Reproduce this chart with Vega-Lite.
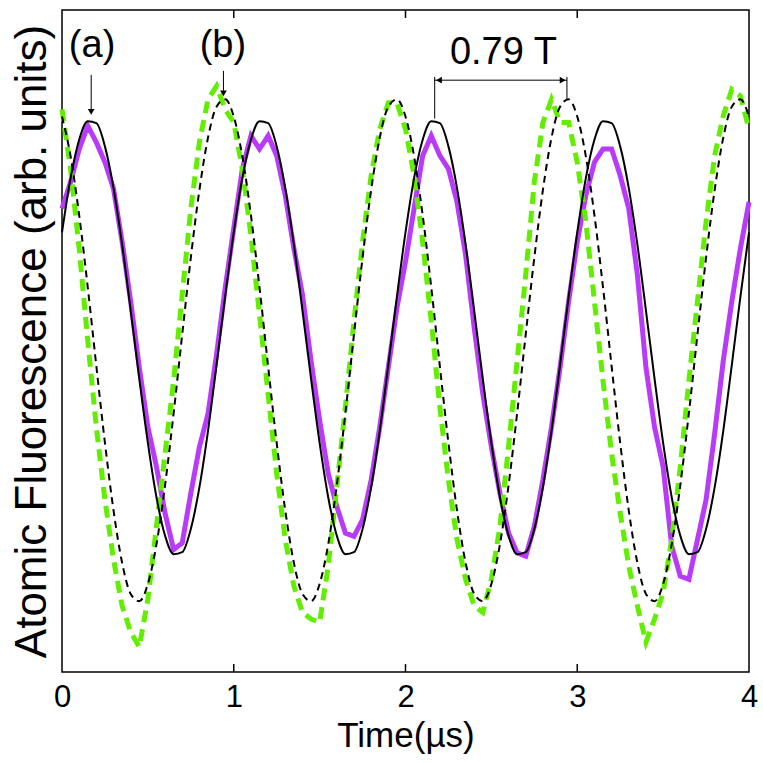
{
  "$schema": "https://vega.github.io/schema/vega-lite/v6.json",
  "width": 687,
  "height": 662,
  "autosize": {"type": "none"},
  "padding": {"left": 62, "top": 10, "right": 14, "bottom": 91},
  "background": "white",
  "config": {
    "view": {"stroke": "black", "strokeWidth": 1.5},
    "font": "Liberation Sans"
  },
  "datasets": {
    "series": [
      {"t": 0.00, "a": 0.700, "fa": 0.664, "b": 0.850, "fb": 0.839},
      {"t": 0.05, "a": 0.740, "fa": 0.746, "b": 0.760, "fb": 0.779},
      {"t": 0.10, "a": 0.790, "fa": 0.804, "b": 0.640, "fb": 0.690},
      {"t": 0.15, "a": 0.825, "fa": 0.832, "b": 0.500, "fb": 0.581},
      {"t": 0.20, "a": 0.800, "fa": 0.829, "b": 0.370, "fb": 0.462},
      {"t": 0.25, "a": 0.770, "fa": 0.794, "b": 0.260, "fb": 0.346},
      {"t": 0.30, "a": 0.730, "fa": 0.731, "b": 0.170, "fb": 0.244},
      {"t": 0.35, "a": 0.650, "fa": 0.646, "b": 0.100, "fb": 0.165},
      {"t": 0.40, "a": 0.560, "fa": 0.546, "b": 0.060, "fb": 0.118},
      {"t": 0.45, "a": 0.460, "fa": 0.443, "b": 0.038, "fb": 0.107},
      {"t": 0.50, "a": 0.370, "fa": 0.346, "b": 0.110, "fb": 0.133},
      {"t": 0.55, "a": 0.310, "fa": 0.264, "b": 0.220, "fb": 0.193},
      {"t": 0.60, "a": 0.240, "fa": 0.206, "b": 0.330, "fb": 0.282},
      {"t": 0.65, "a": 0.185, "fa": 0.178, "b": 0.440, "fb": 0.391},
      {"t": 0.70, "a": 0.195, "fa": 0.181, "b": 0.570, "fb": 0.510},
      {"t": 0.75, "a": 0.270, "fa": 0.216, "b": 0.700, "fb": 0.626},
      {"t": 0.80, "a": 0.340, "fa": 0.279, "b": 0.800, "fb": 0.728},
      {"t": 0.85, "a": 0.390, "fa": 0.364, "b": 0.865, "fb": 0.807},
      {"t": 0.90, "a": 0.480, "fa": 0.464, "b": 0.885, "fb": 0.854},
      {"t": 0.95, "a": 0.580, "fa": 0.567, "b": 0.850, "fb": 0.865},
      {"t": 1.00, "a": 0.670, "fa": 0.664, "b": 0.830, "fb": 0.839},
      {"t": 1.05, "a": 0.760, "fa": 0.746, "b": 0.760, "fb": 0.779},
      {"t": 1.10, "a": 0.810, "fa": 0.804, "b": 0.660, "fb": 0.690},
      {"t": 1.15, "a": 0.790, "fa": 0.832, "b": 0.540, "fb": 0.581},
      {"t": 1.20, "a": 0.810, "fa": 0.829, "b": 0.420, "fb": 0.462},
      {"t": 1.25, "a": 0.780, "fa": 0.794, "b": 0.300, "fb": 0.346},
      {"t": 1.30, "a": 0.720, "fa": 0.731, "b": 0.200, "fb": 0.244},
      {"t": 1.35, "a": 0.640, "fa": 0.646, "b": 0.130, "fb": 0.165},
      {"t": 1.40, "a": 0.570, "fa": 0.546, "b": 0.090, "fb": 0.118},
      {"t": 1.45, "a": 0.470, "fa": 0.443, "b": 0.080, "fb": 0.107},
      {"t": 1.50, "a": 0.380, "fa": 0.346, "b": 0.075, "fb": 0.133},
      {"t": 1.55, "a": 0.300, "fa": 0.264, "b": 0.160, "fb": 0.193},
      {"t": 1.60, "a": 0.250, "fa": 0.206, "b": 0.280, "fb": 0.282},
      {"t": 1.65, "a": 0.210, "fa": 0.178, "b": 0.400, "fb": 0.391},
      {"t": 1.70, "a": 0.205, "fa": 0.181, "b": 0.530, "fb": 0.510},
      {"t": 1.75, "a": 0.230, "fa": 0.216, "b": 0.650, "fb": 0.626},
      {"t": 1.80, "a": 0.290, "fa": 0.279, "b": 0.750, "fb": 0.728},
      {"t": 1.85, "a": 0.370, "fa": 0.364, "b": 0.820, "fb": 0.807},
      {"t": 1.90, "a": 0.460, "fa": 0.464, "b": 0.860, "fb": 0.854},
      {"t": 1.95, "a": 0.550, "fa": 0.567, "b": 0.860, "fb": 0.865},
      {"t": 2.00, "a": 0.620, "fa": 0.664, "b": 0.820, "fb": 0.839},
      {"t": 2.05, "a": 0.700, "fa": 0.746, "b": 0.750, "fb": 0.779},
      {"t": 2.10, "a": 0.780, "fa": 0.804, "b": 0.650, "fb": 0.690},
      {"t": 2.15, "a": 0.810, "fa": 0.832, "b": 0.530, "fb": 0.581},
      {"t": 2.20, "a": 0.780, "fa": 0.829, "b": 0.400, "fb": 0.462},
      {"t": 2.25, "a": 0.760, "fa": 0.794, "b": 0.290, "fb": 0.346},
      {"t": 2.30, "a": 0.710, "fa": 0.731, "b": 0.200, "fb": 0.244},
      {"t": 2.35, "a": 0.630, "fa": 0.646, "b": 0.140, "fb": 0.165},
      {"t": 2.40, "a": 0.520, "fa": 0.546, "b": 0.100, "fb": 0.118},
      {"t": 2.45, "a": 0.420, "fa": 0.443, "b": 0.090, "fb": 0.107},
      {"t": 2.50, "a": 0.340, "fa": 0.346, "b": 0.140, "fb": 0.133},
      {"t": 2.55, "a": 0.270, "fa": 0.264, "b": 0.220, "fb": 0.193},
      {"t": 2.60, "a": 0.210, "fa": 0.206, "b": 0.340, "fb": 0.282},
      {"t": 2.65, "a": 0.180, "fa": 0.178, "b": 0.470, "fb": 0.391},
      {"t": 2.70, "a": 0.175, "fa": 0.181, "b": 0.600, "fb": 0.510},
      {"t": 2.75, "a": 0.220, "fa": 0.216, "b": 0.740, "fb": 0.626},
      {"t": 2.80, "a": 0.290, "fa": 0.279, "b": 0.830, "fb": 0.728},
      {"t": 2.85, "a": 0.370, "fa": 0.364, "b": 0.865, "fb": 0.807},
      {"t": 2.90, "a": 0.460, "fa": 0.464, "b": 0.830, "fb": 0.854},
      {"t": 2.95, "a": 0.560, "fa": 0.567, "b": 0.830, "fb": 0.865},
      {"t": 3.00, "a": 0.650, "fa": 0.664, "b": 0.770, "fb": 0.839},
      {"t": 3.05, "a": 0.720, "fa": 0.746, "b": 0.680, "fb": 0.779},
      {"t": 3.10, "a": 0.770, "fa": 0.804, "b": 0.560, "fb": 0.690},
      {"t": 3.15, "a": 0.790, "fa": 0.832, "b": 0.440, "fb": 0.581},
      {"t": 3.20, "a": 0.790, "fa": 0.829, "b": 0.330, "fb": 0.462},
      {"t": 3.25, "a": 0.750, "fa": 0.794, "b": 0.240, "fb": 0.346},
      {"t": 3.30, "a": 0.700, "fa": 0.731, "b": 0.160, "fb": 0.244},
      {"t": 3.35, "a": 0.600, "fa": 0.646, "b": 0.100, "fb": 0.165},
      {"t": 3.40, "a": 0.460, "fa": 0.546, "b": 0.045, "fb": 0.118},
      {"t": 3.45, "a": 0.370, "fa": 0.443, "b": 0.080, "fb": 0.107},
      {"t": 3.50, "a": 0.310, "fa": 0.346, "b": 0.120, "fb": 0.133},
      {"t": 3.55, "a": 0.190, "fa": 0.264, "b": 0.200, "fb": 0.193},
      {"t": 3.60, "a": 0.145, "fa": 0.206, "b": 0.310, "fb": 0.282},
      {"t": 3.65, "a": 0.140, "fa": 0.178, "b": 0.440, "fb": 0.391},
      {"t": 3.70, "a": 0.200, "fa": 0.181, "b": 0.560, "fb": 0.510},
      {"t": 3.75, "a": 0.260, "fa": 0.216, "b": 0.680, "fb": 0.626},
      {"t": 3.80, "a": 0.360, "fa": 0.279, "b": 0.780, "fb": 0.728},
      {"t": 3.85, "a": 0.470, "fa": 0.364, "b": 0.840, "fb": 0.807},
      {"t": 3.90, "a": 0.560, "fa": 0.464, "b": 0.880, "fb": 0.854},
      {"t": 3.95, "a": 0.640, "fa": 0.567, "b": 0.870, "fb": 0.865},
      {"t": 4.00, "a": 0.710, "fa": 0.664, "b": 0.820, "fb": 0.839}
    ],
    "labels": [
      {"t": 0.175, "v": 0.945, "label": "(a)"},
      {"t": 0.937, "v": 0.945, "label": "(b)"},
      {"t": 2.57, "v": 0.935, "label": "0.79 T"}
    ],
    "rules": [
      {"t": 0.17, "t2": 0.17, "v": 0.902, "v2": 0.85},
      {"t": 0.94, "t2": 0.94, "v": 0.908, "v2": 0.878},
      {"t": 2.17, "t2": 2.94, "v": 0.894, "v2": 0.894},
      {"t": 2.17, "t2": 2.17, "v": 0.899, "v2": 0.836},
      {"t": 2.94, "t2": 2.94, "v": 0.899, "v2": 0.865}
    ],
    "ticks": [
      {"t": 1, "v": 0, "v2": 0.012},
      {"t": 2, "v": 0, "v2": 0.012},
      {"t": 3, "v": 0, "v2": 0.012},
      {"t": 1, "v": 1, "v2": 0.988},
      {"t": 2, "v": 1, "v2": 0.988},
      {"t": 3, "v": 1, "v2": 0.988}
    ],
    "heads": [
      {"t": 0.17, "v": 0.846, "dir": "down"},
      {"t": 0.94, "v": 0.874, "dir": "down"},
      {"t": 2.195, "v": 0.894, "dir": "left"},
      {"t": 2.915, "v": 0.894, "dir": "right"}
    ]
  },
  "layer": [
    {
      "data": {"name": "series"},
      "mark": {"type": "line", "color": "#b93af8", "strokeWidth": 5},
      "encoding": {
        "x": {
          "field": "t", "type": "quantitative",
          "scale": {"domain": [0, 4], "nice": false, "zero": false},
          "axis": {
            "orient": "bottom", "values": [0, 1, 2, 3, 4], "format": "d",
            "grid": false, "domain": false, "ticks": false,
            "labelFont": "Liberation Sans", "labelFontSize": 31, "labelColor": "black",
            "labelPadding": 10, "labelFlush": false,
            "title": "Time(µs)", "titleFont": "Liberation Sans", "titleFontSize": 35,
            "titleFontWeight": "normal", "titleColor": "black", "titlePadding": 6
          }
        },
        "y": {
          "field": "a", "type": "quantitative",
          "scale": {"domain": [0, 1], "nice": false},
          "axis": {
            "grid": false, "domain": false, "ticks": false, "labels": false,
            "title": "Atomic Fluorescence (arb. units)", "titleFont": "Liberation Sans",
            "titleFontSize": 44, "titleFontWeight": "normal", "titleColor": "black",
            "titlePadding": 8
          }
        }
      }
    },
    {
      "data": {"name": "series"},
      "mark": {"type": "line", "color": "#62ee00", "strokeWidth": 5, "strokeDash": [12, 7]},
      "encoding": {
        "x": {"field": "t", "type": "quantitative"},
        "y": {"field": "b", "type": "quantitative"}
      }
    },
    {
      "data": {"name": "series"},
      "mark": {"type": "line", "color": "black", "strokeWidth": 2, "interpolate": "monotone"},
      "encoding": {
        "x": {"field": "t", "type": "quantitative"},
        "y": {"field": "fa", "type": "quantitative"}
      }
    },
    {
      "data": {"name": "series"},
      "mark": {"type": "line", "color": "black", "strokeWidth": 2, "strokeDash": [7, 5], "interpolate": "monotone"},
      "encoding": {
        "x": {"field": "t", "type": "quantitative"},
        "y": {"field": "fb", "type": "quantitative"}
      }
    },
    {
      "data": {"name": "ticks"},
      "mark": {"type": "rule", "color": "black", "strokeWidth": 1.5},
      "encoding": {
        "x": {"field": "t", "type": "quantitative"},
        "y": {"field": "v", "type": "quantitative"},
        "y2": {"field": "v2"}
      }
    },
    {
      "data": {"name": "rules"},
      "mark": {"type": "rule", "color": "black", "strokeWidth": 1},
      "encoding": {
        "x": {"field": "t", "type": "quantitative"},
        "x2": {"field": "t2"},
        "y": {"field": "v", "type": "quantitative"},
        "y2": {"field": "v2"}
      }
    },
    {
      "data": {"name": "heads"},
      "mark": {"type": "point", "filled": true, "color": "black", "opacity": 1, "size": 45},
      "encoding": {
        "x": {"field": "t", "type": "quantitative"},
        "y": {"field": "v", "type": "quantitative"},
        "shape": {
          "field": "dir", "type": "nominal", "legend": null,
          "scale": {"domain": ["down", "left", "right"], "range": ["triangle-down", "triangle-left", "triangle-right"]}
        }
      }
    },
    {
      "data": {"name": "labels"},
      "mark": {"type": "text", "font": "Liberation Sans", "fontSize": 38, "color": "black", "baseline": "middle", "align": "center"},
      "encoding": {
        "x": {"field": "t", "type": "quantitative"},
        "y": {"field": "v", "type": "quantitative"},
        "text": {"field": "label"}
      }
    }
  ]
}
